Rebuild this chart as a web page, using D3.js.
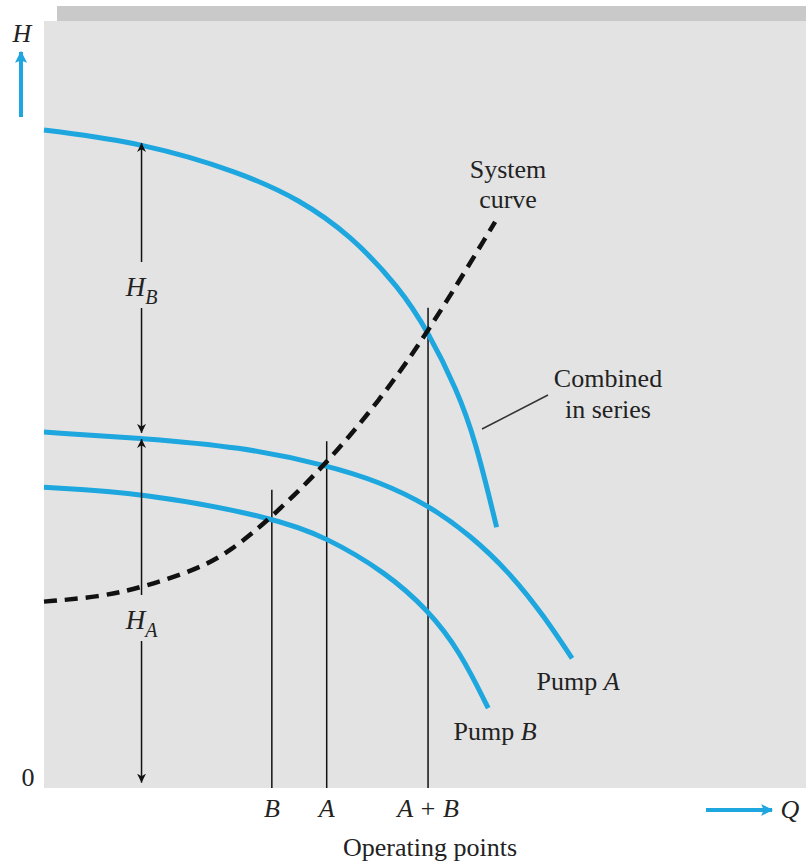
<!DOCTYPE html>
<html>
<head>
<meta charset="utf-8">
<script src="https://cdn.jsdelivr.net/npm/d3@7"></script>
<style>
  body { margin: 0; background: #fff; }
  text { font-family: "Liberation Serif", "Times New Roman", serif; fill: #222; }
</style>
</head>
<body>
<svg id="chart"></svg>
<script>
// curves (Q, H in arbitrary units)
const combinedQ = [0, 1.30, 2.57, 3.36, 4.02, 4.67, 5.04, 5.42, 5.66, 5.94];
const combinedH = [8.58, 8.41, 8.03, 7.67, 7.21, 6.52, 5.95, 5.19, 4.54, 3.40];
const pumpAQ = [0, 1.30, 2.57, 3.71, 4.41, 5.04, 5.59, 6.12, 6.57, 6.93];
const pumpAH = [4.64, 4.56, 4.45, 4.21, 3.99, 3.69, 3.30, 2.80, 2.23, 1.69];
const pumpBQ = [0, 1.30, 2.99, 3.71, 4.50, 5.04, 5.46, 5.83];
const pumpBH = [3.92, 3.85, 3.53, 3.27, 2.80, 2.32, 1.78, 1.04];
const systemQ = [0, 0.73, 1.30, 2.01, 2.44, 2.99, 3.71, 4.41, 5.04, 5.92];
const systemH = [2.43, 2.49, 2.62, 2.85, 3.08, 3.53, 4.23, 5.06, 5.94, 7.38];

// operating points: label, Q, top of the marker line
const opLabels = ["B", "A", "A + B"];
const opQ = [2.99, 3.71, 5.04];
const opTop = [3.89, 4.52, 6.26];

// head dimension arrows at Q = 1.28
const headQ = 1.28;
const headB = [4.63, 8.41];
const headA = [0.07, 4.55];

const width = 806, height = 867;
const blue = "#1ea6de";

const svg = d3.select("#chart").attr("width", width).attr("height", height);

const x = d3.scaleLinear().domain([0, 10]).range([44, 806]);
const y = d3.scaleLinear().domain([0, 10]).range([788, 21]);

// panel with a shadow strip above
svg.append("rect").attr("x", 57).attr("y", 6).attr("width", 749).attr("height", 15).attr("fill", "#c9c9c9");
svg.append("rect").attr("x", x(0)).attr("y", y(10)).attr("width", x(10) - x(0)).attr("height", y(0) - y(10)).attr("fill", "#e3e3e3");

const defs = svg.append("defs");
defs.append("marker").attr("id", "head").attr("viewBox", "0 0 10 10")
    .attr("refX", 10).attr("refY", 5).attr("markerWidth", 9).attr("markerHeight", 12)
    .attr("markerUnits", "userSpaceOnUse").attr("orient", "auto")
    .append("path").attr("d", "M0,0L10,5L0,10L3,5Z").attr("fill", "#111");
defs.append("marker").attr("id", "bhead").attr("viewBox", "0 0 10 10")
    .attr("refX", 9).attr("refY", 5).attr("markerWidth", 14).attr("markerHeight", 12)
    .attr("markerUnits", "userSpaceOnUse").attr("orient", "auto")
    .append("path").attr("d", "M0,0L10,5L0,10L2,5Z").attr("fill", blue);

const line = d3.line().x(d => x(d[0])).y(d => y(d[1])).curve(d3.curveBasis);
const zip = (a, b) => a.map((v, i) => [v, b[i]]);

// operating point verticals
opQ.forEach((q, i) => {
    svg.append("line").attr("x1", x(q)).attr("x2", x(q)).attr("y1", y(opTop[i])).attr("y2", y(0))
        .attr("stroke", "#111").attr("stroke-width", 1.5);
});

// pump curves
[[pumpBQ, pumpBH], [pumpAQ, pumpAH], [combinedQ, combinedH]].forEach(c => {
    svg.append("path").attr("d", line(zip(c[0], c[1])))
        .attr("fill", "none").attr("stroke", blue).attr("stroke-width", 5).attr("stroke-linecap", "butt");
});

// system curve
svg.append("path").attr("d", line(zip(systemQ, systemH)))
    .attr("fill", "none").attr("stroke", "#111").attr("stroke-width", 4.5).attr("stroke-dasharray", "13,8");

// leader for "Combined in series"
svg.append("line").attr("x1", 548).attr("y1", 395).attr("x2", 482).attr("y2", 429)
    .attr("stroke", "#333").attr("stroke-width", 1.5);

// head arrows with a gap for the label
function headArrow(range, label, labelY) {
    const hx = x(headQ), mid = y(labelY);
    svg.append("line").attr("x1", hx).attr("x2", hx).attr("y1", mid - 26).attr("y2", y(range[1]))
        .attr("stroke", "#111").attr("stroke-width", 1.5).attr("marker-end", "url(#head)");
    svg.append("line").attr("x1", hx).attr("x2", hx).attr("y1", mid + 20).attr("y2", y(range[0]))
        .attr("stroke", "#111").attr("stroke-width", 1.5).attr("marker-end", "url(#head)");
    const t = svg.append("text").attr("x", hx).attr("y", mid + 8).attr("text-anchor", "middle")
        .attr("font-size", 27).attr("font-style", "italic");
    t.append("tspan").text("H");
    t.append("tspan").attr("dy", 8).attr("font-size", 20).text(label);
}
headArrow(headB, "B", y.invert(288));
headArrow(headA, "A", y.invert(621));

// labels
const txt = (tx, ty, s, opts = {}) => svg.append("text").attr("x", tx).attr("y", ty)
    .attr("text-anchor", opts.anchor || "middle").attr("font-size", opts.size || 26)
    .attr("font-style", opts.italic ? "italic" : null).text(s);

txt(508, 178, "System");
txt(508, 208, "curve");
txt(608, 387, "Combined");
txt(608, 418, "in series");

const pa = svg.append("text").attr("x", 578).attr("y", 690).attr("text-anchor", "middle").attr("font-size", 26);
pa.append("tspan").text("Pump ");
pa.append("tspan").attr("font-style", "italic").text("A");
const pb = svg.append("text").attr("x", 495).attr("y", 740).attr("text-anchor", "middle").attr("font-size", 26);
pb.append("tspan").text("Pump ");
pb.append("tspan").attr("font-style", "italic").text("B");

// axis labels
txt(22, 42, "H", { italic: true });
svg.append("line").attr("x1", 21).attr("x2", 21).attr("y1", 117).attr("y2", 52)
    .attr("stroke", blue).attr("stroke-width", 4).attr("marker-end", "url(#bhead)");
txt(28, 786, "0");
opLabels.forEach((s, i) => txt(x(opQ[i]), 817, s, { italic: true }));
txt(430, 856, "Operating points");
svg.append("line").attr("x1", 706).attr("x2", 772).attr("y1", 810).attr("y2", 810)
    .attr("stroke", blue).attr("stroke-width", 4).attr("marker-end", "url(#bhead)");
txt(790, 818, "Q", { italic: true });
</script>
</body>
</html>
